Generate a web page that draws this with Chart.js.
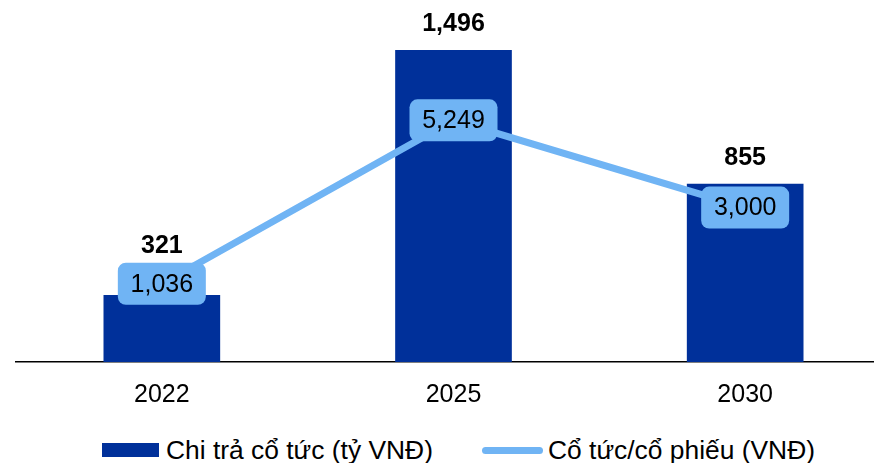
<!DOCTYPE html>
<html>
<head>
<meta charset="utf-8">
<script src="https://cdn.jsdelivr.net/npm/chart.js@4.4.1/dist/chart.umd.min.js"></script>
<style>
    html, body { margin: 0; padding: 0; background: #fff; overflow: hidden; }
    #wrap { position: relative; width: 874px; height: 463px; overflow: hidden; }
    #box { position: absolute; left: 0; top: 0; width: 900px; height: 432px; }
    .legend { position: absolute; top: 434px; font-family: "Liberation Sans", Arial, sans-serif; font-size: 26.4px; color: #000; white-space: nowrap; line-height: 32px; }
    .legend span.swatch { position: absolute; }
</style>
</head>
<body>
<div id="wrap">
    <div id="box"><canvas id="dividendChart"></canvas></div>
    <div class="legend" style="left:102px;">
        <span class="swatch" style="left:0; top:9px; width:57px; height:14px; background:#00309A;"></span>
        <span style="margin-left:64px;">Chi trả cổ tức (tỷ VNĐ)</span>
    </div>
    <div class="legend" style="left:482px;">
        <span class="swatch" style="left:0; top:13px; width:61px; height:7px; border-radius:4px; background:#70B4F4;"></span>
        <span style="margin-left:66px;">Cổ tức/cổ phiếu (VNĐ)</span>
    </div>
</div>

<script>

/*==================================================
DATA
==================================================*/

const years = ["2022", "2025", "2030"];

const payout = [321, 1496, 855];          // Chi trả cổ tức (tỷ VNĐ)

const perShare = [1036, 5249, 3000];      // Cổ tức/cổ phiếu (VNĐ)

const BAR_COLOR = "#00309A";
const LINE_COLOR = "#70B4F4";
const FONT = "'Liberation Sans', Arial, sans-serif";

function fmt(v) {
    return v.toLocaleString("en-US");
}

/*==================================================
VALUE LABELS PLUGIN
==================================================*/

const valueLabels = {

    id: "valueLabels",

    afterDatasetsDraw(chart) {

        const ctx = chart.ctx;
        const points = chart.getDatasetMeta(0).data;
        const bars = chart.getDatasetMeta(1).data;

        const boxW = 88;
        const boxH = 42;

        ctx.save();
        ctx.textAlign = "center";
        ctx.textBaseline = "middle";

        // line labels in rounded boxes
        points.forEach((p, i) => {

            ctx.fillStyle = LINE_COLOR;
            ctx.beginPath();
            ctx.roundRect(p.x - boxW / 2, p.y - boxH / 2, boxW, boxH, 8);
            ctx.fill();

            ctx.fillStyle = "#000";
            ctx.font = "25px " + FONT;
            ctx.fillText(fmt(perShare[i]), p.x, p.y + 1);

        });

        // bar labels, pushed above the line box if they would overlap
        bars.forEach((b, i) => {

            const boxTop = points[i].y - boxH / 2;
            const y = Math.min(b.y - 26, boxTop - 17);

            ctx.fillStyle = "#000";
            ctx.font = "bold 25px " + FONT;
            ctx.fillText(fmt(payout[i]), b.x, y);

        });

        ctx.restore();

    }

};

/*==================================================
CHART
==================================================*/

new Chart(document.getElementById("dividendChart"), {

    data: {

        labels: years,

        datasets: [

            {
                type: "line",
                label: "Cổ tức/cổ phiếu (VNĐ)",
                data: perShare,
                yAxisID: "y1",
                borderColor: LINE_COLOR,
                borderWidth: 7,
                pointRadius: 0,
                tension: 0,
                order: 0
            },

            {
                type: "bar",
                label: "Chi trả cổ tức (tỷ VNĐ)",
                data: payout,
                yAxisID: "y",
                backgroundColor: BAR_COLOR,
                barPercentage: 0.4,
                categoryPercentage: 1,
                order: 1
            }

        ]

    },

    options: {

        responsive: true,
        maintainAspectRatio: false,
        animation: false,

        layout: {
            padding: { left: 16, right: 9, top: 20, bottom: 12 }
        },

        plugins: {
            legend: { display: false },
            tooltip: { enabled: false }
        },

        scales: {

            x: {
                offset: true,
                grid: { display: false },
                border: { color: "#000", width: 1.5 },
                ticks: {
                    color: "#000",
                    padding: 10,
                    font: { family: FONT, size: 25 }
                }
            },

            y: {
                display: false,
                min: 0,
                max: 1640
            },

            y1: {
                display: false,
                min: -980,
                max: 7834
            }

        }

    },

    plugins: [valueLabels]

});

</script>
</body>
</html>
